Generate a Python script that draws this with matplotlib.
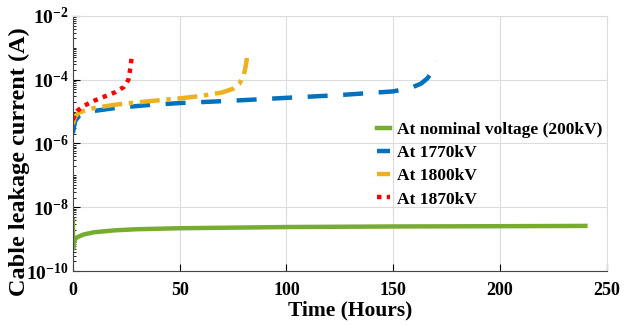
import matplotlib
matplotlib.use('Agg')
import matplotlib.pyplot as plt
from matplotlib.ticker import LogLocator, NullFormatter

plt.rcParams['font.family'] = 'Liberation Serif'
plt.rcParams['font.weight'] = 'bold'
plt.rcParams['mathtext.default'] = 'regular'

# data
t_nom = [0, 0.1, 0.5, 2, 5, 10, 20, 30, 50, 100, 150, 200, 240]
i_nom = [4e-9, 5e-10, 9e-10, 1.15e-9, 1.4e-9, 1.65e-9, 1.9e-9, 2.05e-9, 2.2e-9, 2.4e-9, 2.5e-9, 2.55e-9, 2.6e-9]

t_1770 = [0, 1, 3, 6, 10, 20, 35, 50, 75, 100, 125, 150, 158, 163, 166, 168, 169, 170]
i_1770 = [2.1e-6, 5e-6, 7.5e-6, 9e-6, 1.05e-5, 1.3e-5, 1.6e-5, 1.85e-5, 2.2e-5, 2.7e-5, 3.3e-5, 4.3e-5, 5.5e-5, 7.5e-5, 1.1e-4, 1.7e-4, 2.5e-4, 3.8e-4]

t_1800 = [0, 1, 3, 6, 10, 20, 35, 50, 60, 70, 75, 78, 80, 81, 81.5]
i_1800 = [4e-6, 7e-6, 9.5e-6, 1.1e-5, 1.3e-5, 1.65e-5, 2.1e-5, 2.6e-5, 3.1e-5, 4e-5, 5.2e-5, 7.5e-5, 1.4e-4, 2.8e-4, 4.8e-4]

t_1870 = [0, 1, 2, 5, 10, 15, 20, 24, 26, 27, 27.5]
i_1870 = [5.5e-6, 8.5e-6, 1.05e-5, 1.5e-5, 2.2e-5, 3e-5, 4.1e-5, 6e-5, 1e-4, 2.5e-4, 5.2e-4]

labels = ['At nominal voltage (200kV)', 'At 1770kV', 'At 1800kV', 'At 1870kV']

fig = plt.figure(figsize=(6.34, 3.25), dpi=100)
ax = fig.add_axes([0.115, 0.166, 0.842, 0.785])

ax.semilogy(t_nom, i_nom, color='#77ac30', lw=3.2, label=labels[0])
ax.semilogy(t_1770, i_1770, color='#0072bd', lw=3.2, dashes=(4.5, 3.5), label=labels[1])
ax.semilogy(t_1800, i_1800, color='#edb120', lw=3.2, dashes=(4.5, 1.5, 1, 1.5), label=labels[2])
ax.semilogy(t_1870, i_1870, color='#ff0000', lw=3.2, dashes=(1, 1.2), label=labels[3])

ax.set_xlim(0, 250)
ax.set_ylim(1e-10, 1e-2)
ax.set_xticks([0, 50, 100, 150, 200, 250])
ax.set_yticks([1e-10, 1e-8, 1e-6, 1e-4, 1e-2])
ax.yaxis.set_minor_locator(LogLocator(base=10, subs=range(1, 10), numticks=20))
ax.yaxis.set_minor_formatter(NullFormatter())
ax.tick_params(direction='in', length=5)
ax.tick_params(which='minor', direction='in', length=2.5)
ax.tick_params(axis='x', labelsize=13, pad=8)
ax.tick_params(axis='y', labelsize=14, pad=3)

ax.grid(True, which='major', color='#dcdcdc', lw=0.8)
ax.set_axisbelow(True)
for s in ['top', 'right']:
    ax.spines[s].set_color('#dcdcdc')
for s in ['left', 'bottom']:
    ax.spines[s].set_color('#444444')
ax.tick_params(top=False, right=False)

ax.set_xlabel('Time (Hours)', fontsize=15.5, fontweight='bold')
ax.set_ylabel('Cable leakage current (A)', fontsize=17.5, fontweight='bold')
ax.xaxis.set_label_coords(0.52, -0.115)
ax.yaxis.set_label_coords(-0.08, 0.43)

ax.legend(loc='upper left', bbox_to_anchor=(0.569, 0.584), frameon=False,
          fontsize=12.5, handlelength=0.75, handletextpad=0.45, labelspacing=0.4,
          borderaxespad=0, borderpad=0)

fig.savefig('out.png', dpi=100)
